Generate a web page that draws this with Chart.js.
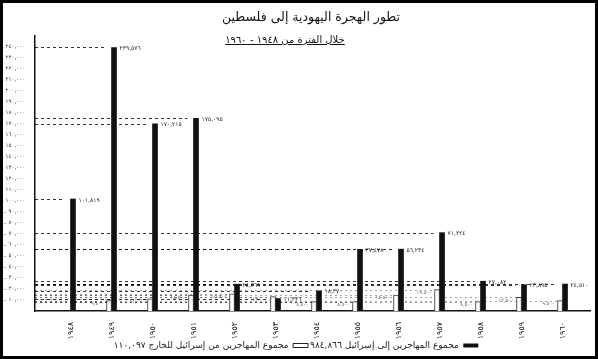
<!DOCTYPE html>
<html><head><meta charset="utf-8">
<script src="https://cdn.jsdelivr.net/npm/chart.js@4/dist/chart.umd.min.js"></script>
<style>
html,body{margin:0;padding:0;background:#fff;}
#wrap{position:relative;width:598px;height:359px;overflow:hidden;background:#fff;}
#c{position:absolute;left:0;top:0;}
#frame{position:absolute;left:0;top:0;width:598px;height:359px;box-sizing:border-box;border:3px solid #000;pointer-events:none;}
.t{position:absolute;white-space:nowrap;font-family:"DejaVu Sans",sans-serif;color:#111;direction:rtl;transform:translateX(-50%);}
</style></head>
<body>
<div id="wrap">
<canvas id="c" width="598" height="359"></canvas>
<div class="t" style="left:311px;top:9px;font-size:12.5px;">تطور الهجرة اليهودية إلى فلسطين</div>
<div class="t" style="left:285px;top:34px;font-size:10px;text-decoration:underline;">خلال الفترة من ١٩٤٨ - ١٩٦٠</div>
<div id="frame"></div>
</div>
<script>
// ---- data ----
const years = [1948,1949,1950,1951,1952,1953,1954,1955,1956,1957,1958,1959,1960];
const immigrants = [101819,239576,170215,175095,24369,11326,18370,56000,56234,71224,27082,23895,24510];
const immigrantLabels = ["١٠١,٨١٩","٢٣٩,٥٧٦","١٧٠,٢١٥","١٧٥,٠٩٥","٢٤,٣٦٩","١١,٣٢٦","١٨,٣٧٠","٣٧,٤٧٨","٥٦,٢٣٤","٧١,٢٢٤","٢٧,٠٨٢","٢٣,٨٩٥","٢٤,٥١٠"];
const emigrants = [null,9400,11000,14500,15500,13000,8500,8500,14500,19500,8500,12500,9500];
const yTicks = [10000,20000,30000,40000,50000,60000,70000,80000,90000,100000,110000,120000,130000,140000,150000,160000,170000,180000,190000,200000,210000,220000,230000,240000];
const legendTexts = ["مجموع المهاجرين إلى إسرائيل ٩٨٤,٨٦٦","مجموع المهاجرين من إسرائيل للخارج ١١٠,٠٩٧"];

const AR = '٠١٢٣٤٥٦٧٨٩';
const toArabic = s => String(s).replace(/\d/g, d => AR[d]);
const fmt = v => toArabic(v.toLocaleString('en-US'));
const FONT = '"DejaVu Sans", sans-serif';

const refLines = {
  id: 'refLines',
  beforeDatasetsDraw(chart) {
    const {ctx, chartArea, scales} = chart;
    const y = scales.y;
    ctx.save();
    const m0 = chart.getDatasetMeta(0);
    ctx.strokeStyle = 'rgba(0,0,0,0.35)';
    ctx.lineWidth = 1;
    ctx.setLineDash([2,3]);
    emigrants.forEach((v,i) => {
      if (v == null) return;
      const el = m0.data[i];
      const py = Math.round(y.getPixelForValue(v)) + 0.5;
      ctx.beginPath(); ctx.moveTo(chartArea.left, py); ctx.lineTo(el.x - el.width/2, py); ctx.stroke();
    });
    const m1 = chart.getDatasetMeta(1);
    ctx.strokeStyle = 'rgba(0,0,0,0.8)';
    ctx.setLineDash([3,3]);
    immigrants.forEach((v,i) => {
      const el = m1.data[i];
      const py = Math.round(y.getPixelForValue(v)) + 0.5;
      ctx.beginPath(); ctx.moveTo(chartArea.left, py); ctx.lineTo(el.x - el.width/2 - 6, py); ctx.stroke();
    });
    ctx.restore();
  },
  afterDatasetsDraw(chart) {
    const {ctx} = chart;
    ctx.save();
    ctx.textBaseline = 'middle';
    const m1 = chart.getDatasetMeta(1);
    ctx.font = '6px ' + FONT;
    ctx.fillStyle = '#222';
    ctx.textAlign = 'left';
    immigrants.forEach((v,i) => {
      const el = m1.data[i];
      ctx.fillText(immigrantLabels[i], el.x + el.width/2 + 3, el.y + 1);
    });
    const m0 = chart.getDatasetMeta(0);
    ctx.font = '5px ' + FONT;
    ctx.fillStyle = '#666';
    ctx.textAlign = 'right';
    emigrants.forEach((v,i) => {
      if (v == null) return;
      const el = m0.data[i];
      ctx.fillText(fmt(v), el.x - el.width/2 - 3, el.y + 3);
    });
    ctx.restore();
  }
};

new Chart(document.getElementById('c'), {
  type: 'bar',
  data: {
    datasets: [
      {
        label: legendTexts[1],
        data: emigrants.map((v,i) => ({x:i, y:v})),
        backgroundColor: '#fff',
        borderColor: '#333',
        borderWidth: 1,
        borderSkipped: 'bottom',
        barThickness: 5
      },
      {
        label: legendTexts[0],
        data: immigrants.map((v,i) => ({x:i, y:v})),
        backgroundColor: '#111',
        borderWidth: 0,
        barThickness: 5
      }
    ]
  },
  options: {
    responsive: false,
    animation: false,
    layout: {padding: {left: 2, right: 8, top: 36, bottom: 0}},
    plugins: {
      tooltip: {enabled: false},
      title: {display: false},
      legend: {
        position: 'bottom',
        reverse: true,
        rtl: true,
        textDirection: 'rtl',
        maxHeight: 20,
        labels: {
          font: {family: FONT, size: 9},
          color: '#222',
          boxWidth: 15,
          boxHeight: 4,
          padding: 2,
          generateLabels(chart) {
            const items = Chart.defaults.plugins.legend.labels.generateLabels(chart);
            items.forEach(it => {
              if (it.datasetIndex === 1) { it.fillStyle = '#111'; it.strokeStyle = '#111'; it.lineWidth = 0; }
              else { it.fillStyle = '#fff'; it.strokeStyle = '#222'; it.lineWidth = 1; }
            });
            return items;
          }
        }
      }
    },
    scales: {
      x: {
        type: 'linear',
        offset: false,
        min: -0.866,
        max: 12.67,
        grid: {display: false, offset: false},
        border: {display: true, color: '#111', width: 1.5},
        afterBuildTicks(scale) { scale.ticks = years.map((_, i) => ({value: i})); },
        afterFit(scale) { scale.height = 28; },
        ticks: {
          autoSkip: false,
          minRotation: 90,
          maxRotation: 90,
          padding: 3,
          color: '#111',
          font: {family: FONT, size: 8},
          callback: v => toArabic(years[v])
        }
      },
      y: {
        min: 0,
        max: 250000,
        grid: {display: false},
        border: {display: true, color: '#111', width: 1.5},
        afterBuildTicks(scale) { scale.ticks = yTicks.map(v => ({value: v})); },
        afterFit(scale) { scale.width = 33; },
        ticks: {
          padding: 2,
          color: '#333',
          font: {family: FONT, size: 5.5},
          callback: v => fmt(v) + ' ....'
        }
      }
    }
  },
  plugins: [refLines]
});
</script>
</body></html>
